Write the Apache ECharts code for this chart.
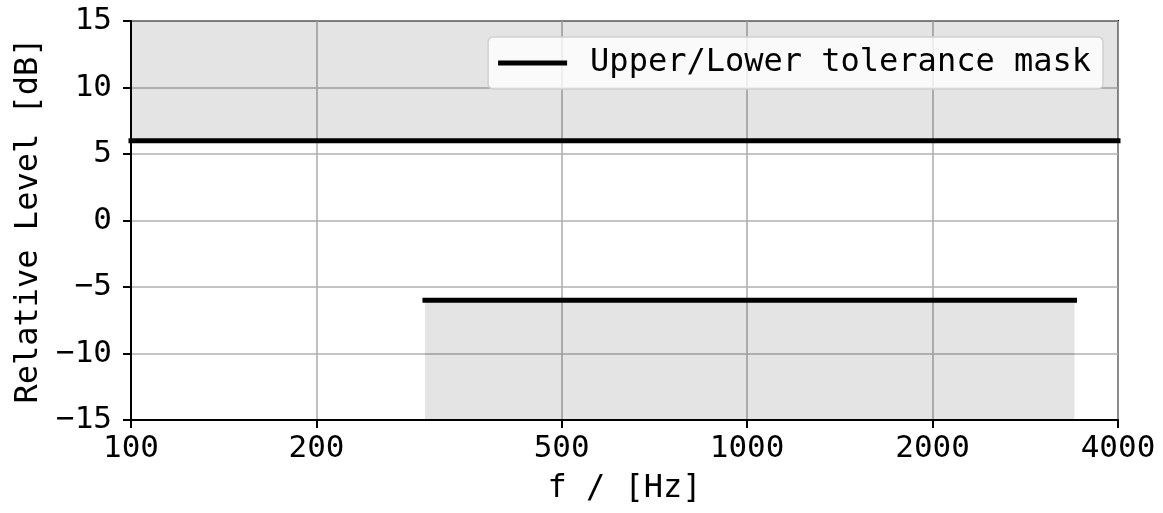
<!DOCTYPE html>
<html>
<head>
<meta charset="utf-8">
<script src="https://cdn.jsdelivr.net/npm/echarts@6/dist/echarts.min.js"></script>
<style>
html,body{margin:0;padding:0;background:#fff;}
#chart{width:1163px;height:513px;}
</style>
</head>
<body>
<div id="chart"></div>
<script>
// ---- data ----
const xTicks = [100, 200, 500, 1000, 2000, 4000];
const yTicks = [-15, -10, -5, 0, 5, 10, 15];
const upperMaskF = [100, 4000];
const upperMaskDb = [6, 6];
const lowerMaskF = [300, 3400];
const lowerMaskDb = [-6, -6];
const yMin = -15, yMax = 15;
const seriesName = 'Upper/Lower tolerance mask';

const FONT = '"DejaVu Sans Mono", "Liberation Mono", monospace';
const shade = 'rgba(0,0,0,0.106)';

const upperData = upperMaskF.map((f, i) => [f, upperMaskDb[i]]);
const lowerData = lowerMaskF.map((f, i) => [f, lowerMaskDb[i]]);

const chart = echarts.init(document.getElementById('chart'), null, {renderer: 'canvas'});
chart.setOption({
  animation: false,
  backgroundColor: '#fff',
  grid: {left: 131, right: 45, top: 21, bottom: 93, show: true, borderColor: '#000', borderWidth: 2, backgroundColor: 'transparent'},
  legend: {
    data: [seriesName],
    right: 60, top: 37,
    backgroundColor: 'rgba(255,255,255,0.8)',
    borderColor: '#d0d0d0', borderWidth: 1.5, borderRadius: 5,
    padding: [10, 12, 10, 10],
    itemWidth: 69, itemHeight: 5,
    icon: 'rect',
    textStyle: {fontFamily: FONT, fontSize: 32, color: '#000', padding: [0, 0, 0, 18]}
  },
  xAxis: {
    type: 'log', logBase: 10, min: xTicks[0], max: xTicks[xTicks.length - 1],
    name: 'f / [Hz]', nameLocation: 'middle', nameGap: 53,
    nameTextStyle: {fontFamily: FONT, fontSize: 32, color: '#000'},
    axisLine: {show: true, onZero: false, lineStyle: {color: '#000', width: 2}},
    axisTick: {show: true, length: 8, lineStyle: {color: '#000', width: 2}, customValues: xTicks},
    axisLabel: {fontFamily: FONT, fontSize: 31, color: '#000', margin: 13, customValues: xTicks, formatter: v => String(Math.round(v))},
    splitLine: {show: true, lineStyle: {color: '#b0b0b0', width: 1.6}},
    minorTick: {show: false}
  },
  yAxis: {
    type: 'value', min: yMin, max: yMax, interval: 5,
    name: 'Relative Level [dB]', nameLocation: 'middle', nameGap: 86,
    nameTextStyle: {fontFamily: FONT, fontSize: 32, color: '#000'},
    axisLine: {show: true, onZero: false, lineStyle: {color: '#000', width: 2}},
    axisTick: {show: true, length: 8, lineStyle: {color: '#000', width: 2}},
    axisLabel: {fontFamily: FONT, fontSize: 31, color: '#000', margin: 19, formatter: v => String(v).replace('-', '\u2212')},
    splitLine: {show: true, lineStyle: {color: '#b0b0b0', width: 1.6}}
  },
  series: [
    {
      name: seriesName, type: 'line', data: upperData, showSymbol: false, symbol: 'none',
      lineStyle: {color: '#000', width: 5, cap: 'square'}, itemStyle: {color: '#000'},
      z: 5,
      markArea: {silent: true, itemStyle: {color: shade}, data: [[{xAxis: upperMaskF[0], yAxis: upperMaskDb[0]}, {xAxis: upperMaskF[1], yAxis: yMax}]]}
    },
    {
      name: seriesName, type: 'line', data: lowerData, showSymbol: false, symbol: 'none',
      lineStyle: {color: '#000', width: 5, cap: 'square'}, itemStyle: {color: '#000'},
      z: 5,
      markArea: {silent: true, itemStyle: {color: shade}, data: [[{xAxis: lowerMaskF[0], yAxis: yMin}, {xAxis: lowerMaskF[1], yAxis: lowerMaskDb[1]}]]}
    }
  ]
});
</script>
</body>
</html>
